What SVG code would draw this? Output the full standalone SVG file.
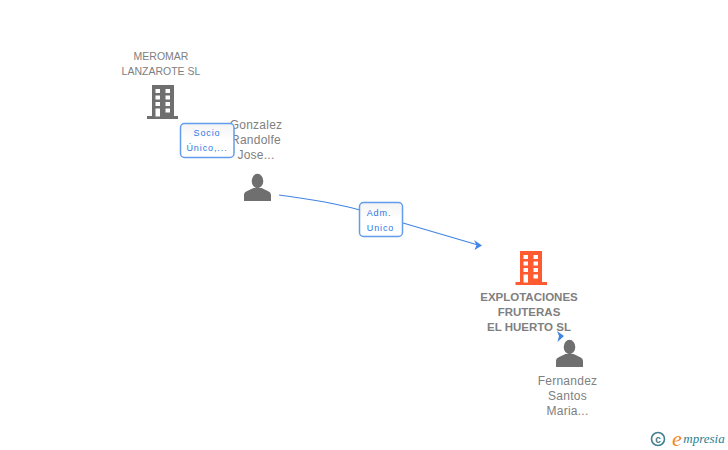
<svg xmlns="http://www.w3.org/2000/svg" width="728" height="450" viewBox="0 0 728 450">
<style>
text{font-family:"Liberation Sans",Arial,sans-serif;text-anchor:middle}
.n{font-size:10.500px;fill:#808080}
.p{font-size:12px;fill:#808080;letter-spacing:.25px}
.b{font-size:11.500px;font-weight:bold;fill:#7f7f7f}
.l{font-size:9px;fill:#2f78e6;letter-spacing:.9px}
.box{fill:url(#bg);stroke:#629cec;stroke-width:1.500}
.c{fill:none;stroke:#4285e4;stroke-width:1.200}
.ah{fill:#3f86e8}
.w{fill:#fff}
</style>
<defs>
<linearGradient id="bg" x1="0" y1="0" x2="0" y2="1"><stop offset="0" stop-color="#f4f4f4"/><stop offset=".5" stop-color="#fff"/></linearGradient>
<g id="person"><ellipse cx="0" cy="-20" rx="5.800" ry="7.200" fill="#6f6f6f"/><path d="M-13.500 0V-6C-13.500 -10 -8 -10.500 -4 -13H4C8 -10.500 13.500 -10 13.500 -6V0Z" fill="#6f6f6f"/></g>
<g id="win"><rect x="0" y="0" width="4.500" height="4" class="w"/><rect x="10" y="0" width="4.500" height="4" class="w"/><rect x="0" y="6.500" width="4.500" height="4" class="w"/><rect x="10" y="6.500" width="4.500" height="4" class="w"/><rect x="0" y="13" width="4.500" height="4" class="w"/><rect x="10" y="13" width="4.500" height="4" class="w"/><rect x="0" y="19.500" width="4.500" height="8" class="w"/><rect x="10" y="19.500" width="4.500" height="4" class="w"/></g>
</defs>
<g id="connectors">
<path class="c" d="M279 195C310 199 335 203 360 210"/>
<path class="c" d="M403 223L478 245"/>
<path class="ah" d="M474 240L482 245.500L474.500 250L476.500 245Z"/>
<path class="ah" d="M557 331L564 336L557.500 342L559 336Z"/>
</g>
<g id="meromar">
<text class="n" x="161" y="60">MEROMAR</text><text class="n" x="161" y="75">LANZAROTE SL</text>
<path d="M152 85H174V116H178V119H147V116H152Z" fill="#6f6f6f"/><use href="#win" x="155.500" y="89"/>
</g>
<g id="gonzalez">
<text class="p" x="256" y="129">Gonzalez</text><text class="p" x="256" y="144">Randolfe</text><text class="p" x="256" y="159">Jose...</text>
<use href="#person" x="257.500" y="201"/>
</g>
<g id="socio">
<rect class="box" x="180.500" y="123.500" width="53.500" height="34" rx="4"/>
<text class="l" x="207" y="136">Socio</text><text class="l" x="207" y="151">Único,...</text>
</g>
<g id="adm">
<rect class="box" x="359.500" y="202.500" width="43" height="34" rx="4"/>
<text class="l" x="379" y="216">Adm.</text><text class="l" x="380.500" y="231">Unico</text>
</g>
<g id="explotaciones">
<path d="M520 251H542V282H547V285H515.500V282H520Z" fill="#ff5a30"/><use href="#win" x="523.500" y="255"/>
<text class="b" x="529" y="301">EXPLOTACIONES</text><text class="b" x="529" y="316">FRUTERAS</text><text class="b" x="529" y="331">EL HUERTO SL</text>
</g>
<g id="fernandez">
<use href="#person" x="569.500" y="367"/>
<text class="p" x="567.500" y="385">Fernandez</text><text class="p" x="567.500" y="400">Santos</text><text class="p" x="567.500" y="415">Maria...</text>
</g>
<g id="empresia">
<circle cx="658" cy="439" r="6.500" fill="none" stroke="#3f7f8f" stroke-width="1.600"/>
<text x="658" y="442.500" style="font-size:10px;font-weight:bold;fill:#3f7f8f">c</text>
<text x="677" y="446" style="font-size:22px;font-style:italic;fill:#f08a1e;font-family:'Liberation Serif',serif">e</text>
<text x="704" y="443" style="font-size:13px;font-style:italic;fill:#2a7f90;font-family:'Liberation Serif',serif">mpresia</text>
</g>
</svg>
